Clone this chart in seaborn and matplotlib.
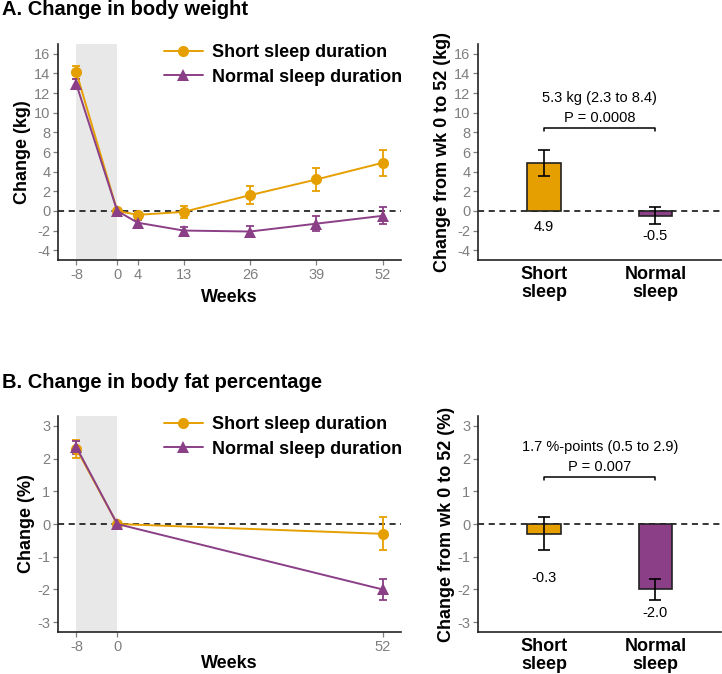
import matplotlib
matplotlib.use("Agg")
import matplotlib.pyplot as plt
import seaborn as sns
import pandas as pd
import numpy as np
from matplotlib.lines import Line2D

# ---------------- data ----------------
groups = ["Short sleep duration", "Normal sleep duration"]
bar_labels = ["Short\nsleep", "Normal\nsleep"]

weeks_A = [-8, 0, 4, 13, 26, 39, 52]
short_A = [14.1, 0.0, -0.4, -0.1, 1.6, 3.2, 4.9]
short_A_err = [0.65, 0.0, 0.3, 0.65, 0.9, 1.15, 1.3]
normal_A = [12.9, 0.0, -1.2, -2.0, -2.1, -1.3, -0.5]
normal_A_err = [0.5, 0.0, 0.3, 0.4, 0.6, 0.75, 0.85]

weeks_B = [-8, 0, 52]
short_B = [2.3, 0.0, -0.3]
short_B_err = [0.27, 0.0, 0.5]
normal_B = [2.35, 0.0, -2.0]
normal_B_err = [0.2, 0.0, 0.33]

bar_A = [4.9, -0.5]
bar_A_err = [1.3, 0.85]
bar_B = [-0.3, -2.0]
bar_B_err = [0.5, 0.33]

ann_A = ["5.3 kg (2.3 to 8.4)", "P = 0.0008"]
ann_B = ["1.7 %-points (0.5 to 2.9)", "P = 0.007"]

titles = ["A. Change in body weight", "B. Change in body fat percentage"]

# ---------------- style ----------------
sns.set_theme(style="white")
plt.rcParams["font.family"] = ["Liberation Sans", "DejaVu Sans"]
plt.rcParams["axes.unicode_minus"] = False

ORANGE = "#E69F00"
PURPLE = "#8B3F86"
palette = {groups[0]: ORANGE, groups[1]: PURPLE}
markers = {groups[0]: "o", groups[1]: "^"}
TICK_GRAY = "#7F7F7F"
SPINE = "#222222"
TICK_FS = 10.5
LABEL_FS = 13

W, H = 722, 674
fig = plt.figure(figsize=(W / 100, H / 100), dpi=100)


def ax_rect(l, t, r, b):
    return [l / W, 1 - b / H, (r - l) / W, (b - t) / H]


axA1 = fig.add_axes(ax_rect(58, 44, 401, 260))
axA2 = fig.add_axes(ax_rect(478, 44, 721, 260))
axB1 = fig.add_axes(ax_rect(58, 416, 401, 632))
axB2 = fig.add_axes(ax_rect(478, 416, 721, 632))


def style_ax(ax):
    for s in ["top", "right"]:
        ax.spines[s].set_visible(False)
    for s in ["left", "bottom"]:
        ax.spines[s].set_color(SPINE)
        ax.spines[s].set_linewidth(1.2)
    ax.tick_params(axis="both", colors=TICK_GRAY, labelsize=TICK_FS, length=3.5,
                   width=0.9, labelcolor=TICK_GRAY, pad=2)
    ax.tick_params(left=True, bottom=True)


def line_panel(ax, weeks, s, se, n, ne, ylim, yticks, ylabel, xlabelpad):
    ax.axvspan(-8, 0, color="#E8E8E8", lw=0, zorder=0)
    ax.axhline(0, color="black", ls=(0, (4, 3)), lw=1.1, zorder=1)
    df = pd.DataFrame({
        "week": list(weeks) * 2,
        "value": list(s) + list(n),
        "group": [groups[0]] * len(weeks) + [groups[1]] * len(weeks),
    })
    sns.lineplot(data=df, x="week", y="value", hue="group", style="group",
                 palette=palette, markers=markers, dashes=False,
                 markersize=8, markeredgewidth=0, linewidth=1.4,
                 legend=False, ax=ax, zorder=3)
    for vals, errs, col in [(s, se, ORANGE), (n, ne, PURPLE)]:
        ax.errorbar(weeks, vals, yerr=errs, fmt="none", ecolor=col,
                    elinewidth=1.3, capsize=3, capthick=1.3, zorder=2)
    ax.set_xlim(-11.6, 55.6)
    ax.set_ylim(*ylim)
    ax.set_xticks(weeks)
    ax.set_yticks(yticks)
    ax.set_xlabel("Weeks", fontsize=LABEL_FS, fontweight="bold", color="black",
                  labelpad=xlabelpad)
    ax.set_ylabel(ylabel, fontsize=LABEL_FS, fontweight="bold", color="black", labelpad=2)
    style_ax(ax)
    handles = [Line2D([], [], color=palette[g], marker=markers[g], markersize=8,
                      markeredgewidth=0, lw=1.4) for g in groups]
    leg = ax.legend(handles, groups, loc="upper left",
                    bbox_to_anchor=(0.309, 0.998), frameon=False,
                    prop={"size": 13, "weight": "bold"}, handlelength=2.15,
                    handletextpad=0.5, labelspacing=0.4, borderpad=0,
                    borderaxespad=0)
    for t in leg.get_texts():
        t.set_color("black")


def bar_panel(ax, vals, errs, ylim, yticks, ylabel, ann, bracket_y, tick_drop,
              ann_y, label_y):
    ax.axhline(0, color="black", ls=(0, (4, 3)), lw=1.1, zorder=0)
    df = pd.DataFrame({"group": bar_labels, "value": vals})
    sns.barplot(data=df, x="group", y="value", hue="group",
                palette=[ORANGE, PURPLE], saturation=1, width=0.3,
                edgecolor="#222222", linewidth=1.2, errorbar=None,
                legend=False, ax=ax, zorder=2)
    ax.errorbar([0, 1], vals, yerr=errs, fmt="none", ecolor="black",
                elinewidth=1.2, capsize=4, capthick=1.2, zorder=4)
    ax.set_xlim(-0.595, 1.59)
    ax.set_ylim(*ylim)
    ax.set_yticks(yticks)
    ax.set_xlabel("")
    ax.set_ylabel(ylabel, fontsize=LABEL_FS, fontweight="bold", color="black", labelpad=2)
    style_ax(ax)
    ax.tick_params(axis="x", labelsize=13, labelcolor="black", length=0, pad=4)
    for t in ax.get_xticklabels():
        t.set_fontweight("bold")
        t.set_linespacing(1.1)
    # bracket
    ax.plot([0, 0, 1, 1], [bracket_y - tick_drop, bracket_y, bracket_y,
                           bracket_y - tick_drop], color="black", lw=1.1)
    ax.text(0.5, ann_y[0], ann[0], ha="center", va="center", fontsize=10.5, color="black")
    ax.text(0.5, ann_y[1], ann[1], ha="center", va="center", fontsize=10.5, color="black")
    for i, v in enumerate(vals):
        ax.text(i, label_y[i], f"{v:.1f}", ha="center", va="center",
                fontsize=10.5, color="black")


line_panel(axA1, weeks_A, short_A, short_A_err, normal_A, normal_A_err,
           (-5, 17), np.arange(-4, 17, 2), "Change (kg)", 5)
bar_panel(axA2, bar_A, bar_A_err, (-5, 17), np.arange(-4, 17, 2),
          "Change from wk 0 to 52 (kg)", ann_A, 8.44, 0.35, (11.5, 9.5),
          (-1.6, -2.6))

line_panel(axB1, weeks_B, short_B, short_B_err, normal_B, normal_B_err,
           (-3.3, 3.3), np.arange(-3, 4, 1), "Change (%)", 1)
bar_panel(axB2, bar_B, bar_B_err, (-3.3, 3.3), np.arange(-3, 4, 1),
          "Change from wk 0 to 52 (%)", ann_B, 1.44, 0.1, (2.36, 1.75),
          (-1.64, -2.73))

fig.text(2 / W, 1 - 15 / H, titles[0], fontsize=14.5, fontweight="bold",
         ha="left", va="baseline", color="black")
fig.text(2 / W, 1 - 388 / H, titles[1], fontsize=14.5, fontweight="bold",
         ha="left", va="baseline", color="black")

fig.savefig("out.png", dpi=100)
